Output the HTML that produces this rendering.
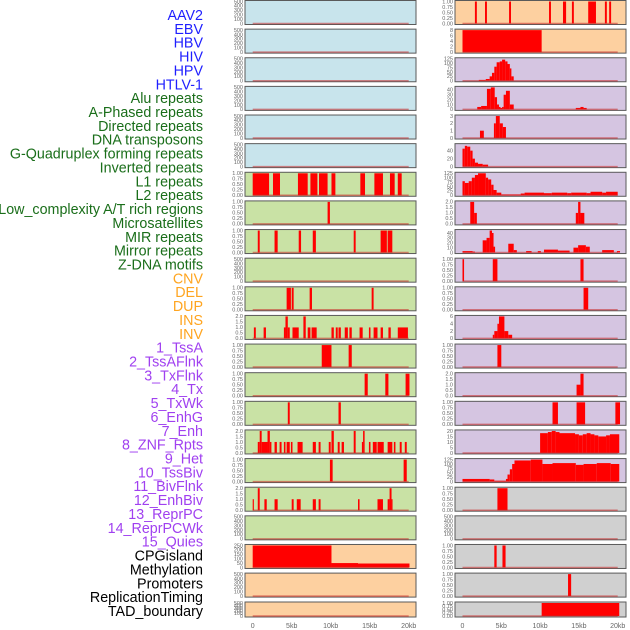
<!DOCTYPE html>
<html><head><meta charset="utf-8">
<style>
html,body{margin:0;padding:0;background:#fff;}
svg{display:block;font-family:"Liberation Sans",sans-serif;}
</style></head>
<body>
<svg id="chart" width="630" height="630" viewBox="0 0 630 630" xmlns="http://www.w3.org/2000/svg"></svg>
<script>
// ---- data ----
const trackLabels = ["AAV2","EBV","HBV","HIV","HPV","HTLV-1","Alu repeats","A-Phased repeats","Directed repeats","DNA transposons","G-Quadruplex forming repeats","Inverted repeats","L1 repeats","L2 repeats","Low_complexity A/T rich regions","Microsatellites","MIR repeats","Mirror repeats","Z-DNA motifs","CNV","DEL","DUP","INS","INV","1_TssA","2_TssAFlnk","3_TxFlnk","4_Tx","5_TxWk","6_EnhG","7_Enh","8_ZNF_Rpts","9_Het","10_TssBiv","11_BivFlnk","12_EnhBiv","13_ReprPC","14_ReprPCWk","15_Quies","CPGisland","Methylation","Promoters","ReplicationTiming","TAD_boundary"];
const labelGroups = [0,0,0,0,0,0,1,1,1,1,1,1,1,1,1,1,1,1,1,2,2,2,2,2,3,3,3,3,3,3,3,3,3,3,3,3,3,3,3,4,4,4,4,4];
const xTickLabels = ["0","5kb","10kb","15kb","20kb"];
const xTickValues = [0,5,10,15,20];

const T500=["0","100","200","300","400","500"], T1=["0.00","0.25","0.50","0.75","1.00"], T2=["0.0","0.5","1.0","1.5","2.0"];
const leftMax = [500,500,500,500,500,500,1,1,1,500,1,2,1,1,1,2,1,2,500,250,500,500];
const leftTicks = [T500,T500,T500,T500,T500,T500,T1,T1,T1,T500,T1,T2,T1,T1,T1,T2,T1,T2,T500,["0","50","100","150","200","250"],T500,T500];
const leftBg = ["b","b","b","b","b","b","g","g","g","g","g","g","g","g","g","g","g","g","g","o","o","o"];
const leftSegs = [
 [],[],[],[],[],[],
 [[0,2.1,1],[2.6,3.5,1],[5.8,7.05,1],[7.4,8.3,1],[8.5,9.6,1],[10.1,10.6,1],[13.8,14.4,1],[15.6,16.7,1],[17.6,18.2,1],[18.6,19.1,1]],
 [[9.6,9.9,1]],
 [[0.65,0.9,1],[2.8,3.2,1],[5.9,6.2,1],[7.7,8.1,1],[12.95,13.2,1],[16.4,17.2,1],[17.3,17.9,1]],
 [],
 [[4.35,4.9,1],[5,5.25,1],[7.3,7.6,1],[15.25,15.5,1]],
 [[0.15,0.4,1],[1.4,1.7,1],[4,4.2,1],[4.2,4.5,2],[4.5,4.75,1],[5.1,5.9,1],[6.5,6.8,2],[7.05,7.4,1],[7.55,8.2,1],[10.1,10.4,1],[10.65,10.9,1],[11,11.3,1],[11.8,12.2,1],[12.4,12.7,1],[13.7,14.1,1],[14.9,15.1,1],[15.5,16,1],[16.4,16.7,1],[17.4,17.7,1],[18.6,19.9,1]],
 [[8.85,10.1,1],[12.3,12.7,1]],
 [[14.35,14.75,1],[17,17.4,1],[19.6,20.1,1]],
 [[4.5,4.75,1],[11,11.3,1]],
 [[0.65,0.9,1],[0.9,1.15,2],[1.15,1.9,1],[1.9,2.2,2],[2.2,2.4,1],[2.8,3.1,1],[3.45,3.7,1],[4,4.2,1],[4.35,4.75,1],[4.9,5.1,1],[5.75,6.4,1],[7.7,8.1,1],[8.45,8.7,1],[9.75,10,1],[10.1,10.4,2],[10.9,11.15,1],[11.4,11.7,1],[12.95,13.2,2],[14,14.15,1],[14.15,14.35,2],[14.9,15.1,1],[15.4,15.9,1],[16,16.8,1],[17.3,17.9,1],[18.1,18.3,1],[18.85,19.1,1],[19.5,19.75,1]],
 [[9.9,10.25,1],[19.35,19.75,1]],
 [[0,0.15,1],[0.65,0.9,2],[1.5,1.8,1],[2.8,3.2,1],[5,5.25,1],[5.65,6.15,1],[7.7,8.1,1],[8.45,8.7,1],[13.5,13.7,1],[16,16.7,1],[17.3,17.55,1],[17.55,17.8,2],[17.8,17.9,1]],
 [],
 [[0,10.1,250],[10.1,13.5,50],[13.5,20.1,45]],
 [],[]
];

const rightMax = [1,8,125,45,3,55,125,2,45,1,1,6,1,2,1,20,125,1,500,1,1,1];
const rightTicks = [T1,["0","2","4","6","8"],["0","25","50","75","100","125"],["0","10","20","30","40"],["0","1","2","3"],["0","20","40"],["0","25","50","75","100","125"],T2,["0","10","20","30","40"],T1,T1,["0","2","4","6"],T1,T2,T1,["0","5","10","15","20"],["0","25","50","75","100","125"],T1,T500,T1,T1,T1];
const rightBg = ["o","o","p","p","p","p","p","p","p","p","p","p","p","p","p","p","p","y","y","y","y","y"];
const rightSegs = [
 [[1.6,1.85,1],[2.9,3.15,1],[6,6.25,1],[11.15,11.4,1],[12.95,13.35,1],[14.1,14.35,1],[16.2,17.2,1],[18.35,18.6,1],[18.9,19.15,1]],
 [[0,10.2,8]],
 [[2.1,3,5],[3,3.5,10],[3.5,3.8,25],[3.8,4.1,45],[4.1,4.4,80],[4.4,4.8,105],[4.8,5.1,110],[5.1,5.5,120],[5.5,5.8,110],[5.8,6.1,95],[6.1,6.3,70],[6.3,6.6,25]],
 [[1.9,2.4,5],[2.4,3.15,7],[3.15,3.65,42],[3.65,4.15,45],[4.15,4.45,25],[4.45,4.7,10],[4.7,4.9,5],[4.9,5.1,3],[5.1,5.3,5],[5.3,5.6,30],[5.6,6.1,38],[6.1,6.6,10],[14.6,15.2,3],[15.2,15.6,5],[15.6,16,3]],
 [[2.25,2.75,1],[4.05,4.3,2],[4.3,4.8,3],[4.8,5.2,2],[5.2,5.6,1.5]],
 [[0,0.3,45],[0.3,0.6,52],[0.6,1,50],[1,1.3,40],[1.3,1.6,20],[1.6,2,10],[2,2.6,7],[2.6,3.3,5]],
 [[0,0.3,80],[0.3,0.8,70],[0.8,1.2,80],[1.2,1.6,100],[1.6,2,115],[2,3,125],[3,3.3,100],[3.3,3.7,90],[3.7,4,60],[4,4.4,30],[4.4,5,15],[5,6,5],[6,7.5,5],[7.5,8,10],[8,10.5,15],[10.5,11.5,12],[11.5,13.5,15],[13.5,14,12],[14,16,15],[16,16.5,12],[16.5,18,20],[18,18.5,15],[18.5,20,20]],
 [[1,1.5,2],[1.5,1.85,1],[14.6,14.9,1],[14.9,15.2,2],[15.2,15.7,1]],
 [[0,1.3,3],[1.3,1.6,2],[2.6,3.1,25],[3.1,3.5,30],[3.5,3.8,45],[3.8,4,40],[4,4.2,12],[5.9,6.6,18],[6.6,7,5],[8.2,8.9,3],[9.7,10.1,3],[10.5,12.3,6],[12.3,13.8,4],[14.3,14.9,10],[14.9,15.9,15],[15.9,16.4,12],[18,19.5,5],[19.9,20.3,3]],
 [[0,0.2,1],[3.9,4.5,1],[15.2,15.6,1]],
 [[15.6,16.2,1]],
 [[3.9,4.1,1],[4.1,4.5,2],[4.5,4.7,4],[4.7,5.4,6],[5.4,5.9,2],[5.9,6.4,1]],
 [[4.5,5,1]],
 [[14.7,15.2,1],[15.2,15.6,2]],
 [[11.6,12.3,1],[14.7,15.8,1],[19.7,20.3,1]],
 [[10,11,18],[11,11.5,19],[11.5,12,20],[12,12.5,19],[12.5,14.5,18],[14.5,15,17],[15,15.5,16],[15.5,16,17],[16,16.5,18],[16.5,17,17],[17,17.5,16],[17.5,18.5,15],[18.5,19,16],[19,20.2,17]],
 [[0,3.5,15],[3.5,4.1,12],[4.1,5.6,5],[5.6,5.8,15],[5.8,6.1,40],[6.1,6.4,70],[6.4,6.7,100],[6.7,8.8,120],[8.8,10.3,125],[10.3,11.6,100],[11.6,14.6,105],[14.6,15.6,95],[15.6,17.3,100],[17.3,19.1,105],[19.1,20.2,100]],
 [[4.5,5.8,1]],
 [],
 [[4.1,4.4,1],[5.15,5.55,1]],
 [[13.6,14,1]],
 [[10.2,20.2,1]]
];

// ---- layout ----
const NS="http://www.w3.org/2000/svg";
const svg=document.getElementById("chart");
const bgCol={b:"#c8e4ec",g:"#c9e2a5",o:"#fdd0a0",p:"#d5c5e1",y:"#d0d0d0"};
const groupCol=["#1f1fff","#1a6e1a","#ffa520","#a040f0","#000000"];
function mk(tag,attrs){const e=document.createElementNS(NS,tag);for(const k in attrs)e.setAttribute(k,attrs[k]);svg.appendChild(e);return e;}
function rowTop(i){return i<21?0.5+i*28.63:602;}
function rowH(i){return i<21?24:15;}
const cols=[{x0:245,x1:416,org:252.7,pk:7.8,max:leftMax,ticks:leftTicks,bg:leftBg,segs:leftSegs,side:"left"},
            {x0:455,x1:626,org:462.5,pk:7.76,max:rightMax,ticks:rightTicks,bg:rightBg,segs:rightSegs,side:"right"}];

// labels
trackLabels.forEach((t,j)=>{
  const e=mk("text",{x:203,y:15+j*13.86+5,"text-anchor":"end","font-size":"14.3",fill:groupCol[labelGroups[j]]});
  e.textContent=t;
  
  
});

cols.forEach(c=>{
  const xs=kb=>c.org+kb*c.pk;
  for(let i=0;i<22;i++){
    const top=rowTop(i),h=rowH(i);
    const y0=top+h-1, yt=top+1;
    const ys=v=>y0-(v/c.max[i])*(y0-yt);
    const r=mk("rect",{x:c.x0,y:top,width:c.x1-c.x0,height:h,fill:bgCol[c.bg[i]],stroke:"#5a5a5a","stroke-width":1});
    
    
    c.segs[i].forEach(s=>{
      const b=mk("rect",{x:xs(s[0]),y:ys(s[2]),width:Math.max(xs(s[1])-xs(s[0]),1),height:y0-ys(s[2]),fill:"#ff0000"});
      
      
    });
    const bl=mk("line",{x1:xs(0),x2:xs(20),y1:y0,y2:y0,stroke:"rgba(200,40,40,0.55)","stroke-width":1.5});
    
    
    c.ticks[i].forEach(tl=>{
      const v=parseFloat(tl);
      const t=mk("text",{x:c.x0-2,y:ys(v)+1.8,"text-anchor":"end","font-size":"5.5",fill:"#666"});
      t.textContent=tl;
      
      
    });
  }
  xTickLabels.forEach((tl,k)=>{
    const t=mk("text",{x:xs(xTickValues[k]),y:628,"text-anchor":"middle","font-size":"7",fill:"#666"});
    t.textContent=tl;
    
    
  });
});
</script>
</body></html>
